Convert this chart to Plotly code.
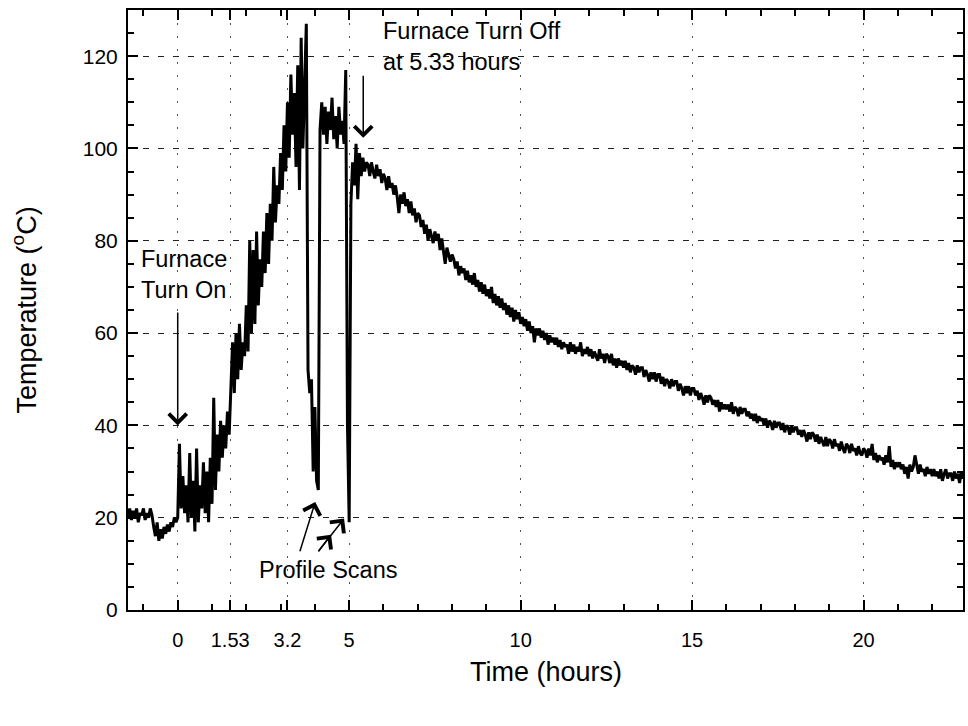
import numpy as np
import plotly.graph_objects as go

# ---------------- data ----------------
STEP_H = 0.05  # logger sampling interval, hours

baseline_start = -1.5
baseline_temp = [
    21, 20, 22, 19.5, 21.5, 20, 22, 19, 21, 20.5,
    22, 19.5, 21, 20, 22, 20.5, 18, 16, 19, 15,
    17.5, 15.5, 18, 16.5, 18.5, 17, 19, 18, 20, 19,
]

heating_start = 0.0
heating_temp = [
    20, 36, 22, 29, 21, 27, 19, 34, 20, 28,
    17, 35, 19, 27, 22, 32, 21, 30, 19, 33,
    23, 46, 26, 38, 30, 41, 33, 40, 35, 43,
    38,
    48, 58, 47, 60, 50, 62, 52, 58, 55, 66,
    56, 80, 60, 78, 62, 82, 66, 76, 70, 82,
    73, 86, 75, 88, 80, 96, 84, 92, 88, 99,
    91, 105, 95, 110, 98, 116, 103, 112, 96, 118,
    91, 124, 100, 112, 127,
]

scan1_start = 3.80
scan1_temp = [52, 47, 50, 30, 44, 28, 26]

hold_start = 4.15
hold_temp = [
    104, 110, 103, 109, 101, 108, 104, 111, 102, 107,
    100, 109, 103, 106, 101, 117,
]

scan2_start = 4.95
scan2_temp = [40, 19]

cooling_start = 5.05
cooling_temp = [
    88, 97, 92, 101, 89, 99, 94, 98, 95, 97,
    96.5, 94, 97, 95, 93.5, 96.5, 94, 95.5, 92.5, 94.5,
    93.5, 91, 94, 91.5, 92.5, 90, 92, 89.5, 86, 90,
    88, 90.5, 87.5, 89, 86, 88.5, 85.5, 87, 84, 86,
    85.5, 83, 84.5, 81.5, 83.5, 80, 82.5, 81, 79.5, 82,
    80, 81.5, 78, 80.5, 77.5, 75, 78.5, 77, 75.5, 77,
    76, 74, 75.5, 72.5, 74.5, 73, 74, 71.5, 73.5, 71,
    72.5, 70.5, 73, 70, 71.5, 69, 71, 68.5, 70.5, 68,
    69.5, 67.5, 70, 66.5, 68.5, 66, 68, 65.5, 67.5, 65,
    66.5, 64, 66, 63.5, 65.5, 62.5, 65, 63, 64.5, 62,
    63.5, 61.5, 63, 60.5, 62.5, 60, 61.5, 58, 61, 59.5,
    61, 59, 60.5, 58.5, 60, 57.5, 59.5, 58, 59, 57.5,
    59, 57, 58.5, 56.5, 58, 57, 57.5, 55.5, 58, 56,
    57.5, 55.5, 57, 56, 58, 55, 56.5, 55.5, 57, 55,
    56.5, 54.5, 56, 55, 54, 56.5, 54.5, 55.5, 53.5, 55.5,
    55, 53.5, 55.5, 53, 54.5, 52.5, 54.5, 53, 54, 52.5,
    54, 52, 53.5, 51.5, 53, 52.5, 51, 53, 51.5, 52.5,
    52.5, 50.5, 52, 51, 49.5, 51.5, 50, 51.5, 49.5, 51,
    51, 49, 50.5, 48.5, 50, 49.5, 48, 50, 48.5, 49.5,
    49.5, 47.5, 49, 48, 46.5, 48.5, 47, 48.5, 46.5, 48,
    48, 46.5, 47.5, 45.5, 47, 46, 44.5, 46.5, 45, 46.5,
    46, 44.5, 45.5, 44, 45.5, 43, 45, 43.5, 44.5, 43.5,
    44.5, 43, 45, 42.5, 44, 43.5, 42, 44, 42.5, 43.5,
    43.5, 42, 43, 41.5, 42.5, 41, 42.5, 40.5, 42, 41,
    41.5, 40, 41.5, 39.5, 41, 40.5, 39, 41, 39.5, 40.5,
    40.5, 39, 40.5, 38.5, 40, 39.5, 38, 40, 38.5, 39.5,
    39.5, 38, 39, 37.5, 39, 38, 36.5, 38.5, 37, 38.5,
    38, 36.5, 38, 36, 37.5, 36.5, 35.5, 37.5, 35.5, 37,
    36.5, 35, 37, 35.5, 36, 34.5, 36.5, 35, 34, 36,
    35.5, 34, 36, 34.5, 35, 33.5, 35.5, 34, 33.5, 35,
    34.5, 33, 35, 33.5, 36, 32.5, 34, 32, 33.5, 32.5,
    33, 31.5, 33.5, 32, 35.5, 31, 32.5, 30.5, 32, 31,
    32, 30.5, 31.5, 29.5, 31, 28.5, 31.5, 30, 31, 33.5,
    31, 29.5, 31.5, 30, 30.5, 29, 31, 29.5, 30.5, 29,
    30.5, 29, 30, 28.5, 30.5, 28, 29.5, 30.5, 28.5, 29.5,
    29.5, 28, 30, 28.5, 29.5, 27.5, 30, 28.5, 29, 28,
]

x_tick_vals = [0, 1.53, 3.2, 5, 10, 15, 20]
x_tick_text = ["0", "1.53", "3.2", "5", "10", "15", "20"]
y_tick_vals = [0, 20, 40, 60, 80, 100, 120]

segments = [
    (baseline_start, baseline_temp),
    (heating_start, heating_temp),
    (scan1_start, scan1_temp),
    (hold_start, hold_temp),
    (scan2_start, scan2_temp),
    (cooling_start, cooling_temp),
]
time_h = np.concatenate([s + STEP_H * np.arange(len(v)) for s, v in segments])
temp_c = np.concatenate([np.asarray(v, dtype=float) for _, v in segments])

FONT = "Arial, Liberation Sans, Helvetica, sans-serif"

fig = go.Figure()
fig.add_trace(go.Scatter(
    x=time_h, y=temp_c, mode="lines",
    line=dict(color="black", width=3),
    hoverinfo="skip", showlegend=False,
))

fig.update_layout(
    width=968, height=726,
    margin=dict(l=128, r=3, t=10, b=116),
    paper_bgcolor="white", plot_bgcolor="white",
    font=dict(family=FONT, color="black"),
    showlegend=False,
)

fig.update_xaxes(
    range=[-1.45, 22.9],
    tickmode="array", tickvals=x_tick_vals, ticktext=x_tick_text,
    ticks="inside", ticklen=10, tickwidth=2, tickcolor="black",
    minor=dict(dtick=1, tick0=0, ticks="inside", ticklen=6, tickwidth=2,
               tickcolor="black", showgrid=False),
    showline=True, linecolor="black", linewidth=2, mirror="allticks",
    showgrid=True, gridcolor="#555555", gridwidth=1, griddash="2px,11px",
    tickfont=dict(size=20, family=FONT),
    ticklabelstandoff=11,
    zeroline=False,
)
fig.update_yaxes(
    range=[0, 130],
    tickmode="array", tickvals=y_tick_vals,
    ticks="inside", ticklen=10, tickwidth=2, tickcolor="black",
    minor=dict(dtick=5, tick0=0, ticks="inside", ticklen=6, tickwidth=2,
               tickcolor="black", showgrid=False),
    showline=True, linecolor="black", linewidth=2, mirror="allticks",
    showgrid=True, gridcolor="#222222", gridwidth=1, griddash="6px,9px",
    tickfont=dict(size=21, family=FONT),
    ticklabelstandoff=4,
    zeroline=False,
)

ANN_FONT = dict(size=23.5, family=FONT, color="black")
annotations = [
    # axis titles
    dict(text="Time (hours)", xref="paper", yref="paper", x=0.5, y=-0.103,
         xanchor="center", yanchor="middle", showarrow=False,
         font=dict(size=27, family=FONT)),
    dict(text="Temperature (<sup>o</sup>C)", xref="paper", yref="paper",
         x=-0.124, y=0.5, xanchor="center", yanchor="middle", textangle=-90,
         showarrow=False, font=dict(size=27, family=FONT)),
    # labels
    dict(text="Furnace<br>Turn On", x=-1.12, y=72.6, xref="x", yref="y",
         xanchor="left", yanchor="middle", align="left", showarrow=False,
         font=ANN_FONT),
    dict(text="Furnace Turn Off<br>at 5.33 hours", x=5.93, y=122.2, xref="x",
         yref="y", xanchor="left", yanchor="middle", align="left",
         showarrow=False, font=ANN_FONT),
    dict(text="Profile Scans", x=4.37, y=8.6, xref="x", yref="y",
         xanchor="center", yanchor="middle", showarrow=False, font=ANN_FONT),
]
arrows = [
    # (tip x, tip y, tail x, tail y)
    (0.0, 40.0, 0.0, 64.8),
    (5.41, 102.3, 5.41, 116.1),
    (4.01, 23.4, 3.55, 12.4),
    (4.85, 19.8, 4.07, 12.4),
    (4.47, 16.3, 4.07, 12.4),
]
for tx, ty, sx, sy in arrows:
    annotations.append(dict(
        x=tx, y=ty, ax=sx, ay=sy, xref="x", yref="y", axref="x", ayref="y",
        text="", showarrow=True, arrowhead=4, arrowsize=2.3, arrowwidth=1.5,
        arrowcolor="black", standoff=0, startstandoff=0,
    ))
fig.update_layout(annotations=annotations)

fig.write_html("out.html")
